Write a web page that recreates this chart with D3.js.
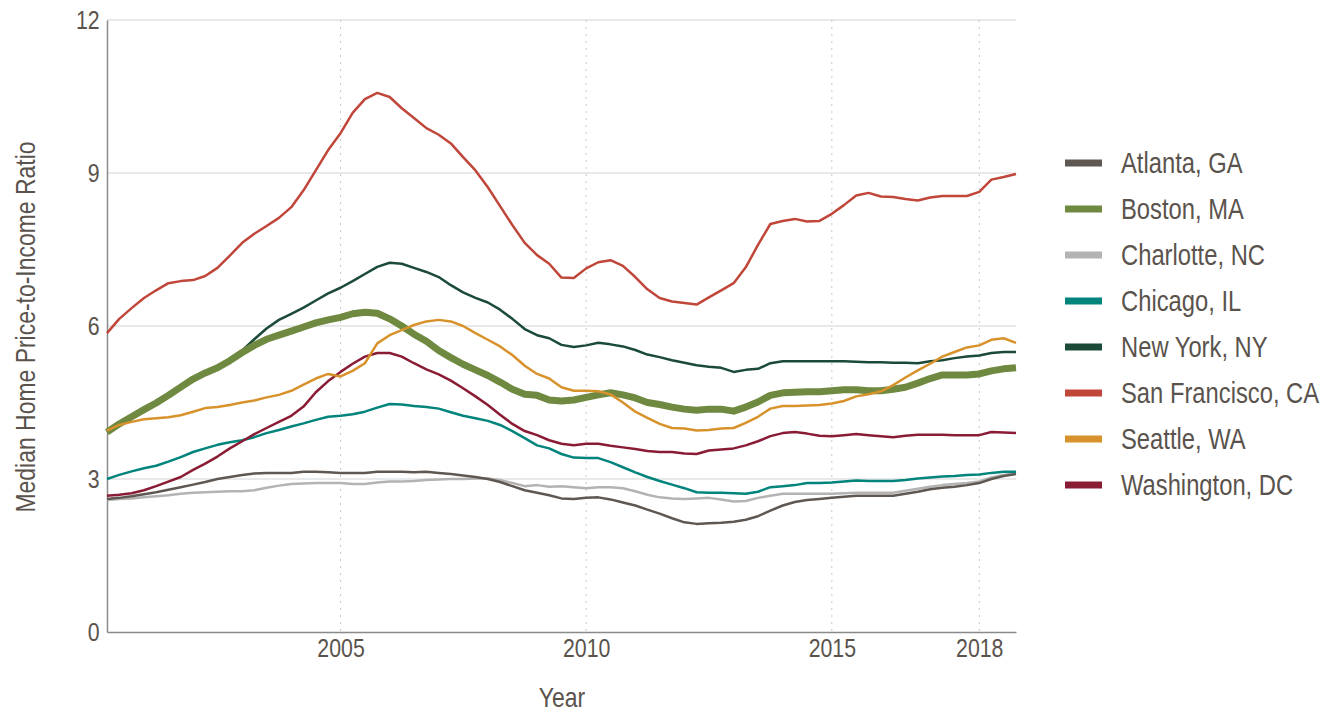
<!DOCTYPE html>
<html>
<head>
<meta charset="utf-8">
<title>Price-to-Income</title>
<script src="https://cdn.jsdelivr.net/npm/d3@7"></script>
<style>
  body { margin: 0; background: #fff; }
  svg text { font-family: "Liberation Sans", Arial, sans-serif; fill: #5a534d; }
</style>
</head>
<body>
<svg id="chart" width="1325" height="713"></svg>
<script>
// quarterly, 2000 Q1 .. 2018 Q3
const quarters = d3.range(75).map(i => new Date(2000, 3 + 3 * i, 1))

const atlanta = [2.61,2.63,2.66,2.70,2.74,2.79,2.84,2.89,2.94,3.00,3.04,3.08,3.11,3.12,3.12,3.12,3.14,3.14,3.13,3.12,
  3.12,3.12,3.14,3.14,3.14,3.13,3.14,3.12,3.10,3.07,3.04,3.00,2.94,2.86,2.78,2.73,2.68,2.62,2.61,2.63,
  2.64,2.60,2.54,2.48,2.40,2.32,2.23,2.15,2.12,2.13,2.14,2.16,2.20,2.27,2.38,2.48,2.55,2.59,2.61,2.63,
  2.65,2.67,2.67,2.67,2.67,2.71,2.75,2.80,2.83,2.85,2.88,2.92,3.00,3.06,3.10]
const boston = [3.92,4.08,4.22,4.36,4.49,4.64,4.80,4.96,5.08,5.18,5.32,5.48,5.62,5.74,5.82,5.90,5.98,6.06,6.12,6.17,
  6.24,6.27,6.25,6.14,6.00,5.84,5.70,5.52,5.38,5.25,5.14,5.03,4.90,4.76,4.66,4.64,4.55,4.53,4.55,4.60,
  4.65,4.69,4.65,4.59,4.50,4.46,4.41,4.37,4.35,4.37,4.37,4.33,4.41,4.51,4.64,4.69,4.70,4.71,4.71,4.73,
  4.75,4.75,4.73,4.73,4.76,4.80,4.88,4.97,5.04,5.04,5.04,5.06,5.12,5.16,5.18]
const charlotte = [2.59,2.61,2.62,2.64,2.66,2.68,2.71,2.73,2.74,2.75,2.76,2.76,2.78,2.83,2.87,2.90,2.91,2.92,2.92,2.92,
  2.90,2.90,2.93,2.95,2.95,2.96,2.98,2.99,3.00,3.00,3.01,3.01,2.98,2.92,2.86,2.88,2.85,2.86,2.84,2.82,
  2.84,2.84,2.82,2.76,2.69,2.64,2.62,2.61,2.62,2.63,2.60,2.56,2.57,2.63,2.67,2.71,2.71,2.71,2.71,2.71,
  2.72,2.73,2.73,2.73,2.73,2.77,2.81,2.85,2.88,2.90,2.92,2.95,3.03,3.08,3.12]
const chicago = [3.00,3.08,3.15,3.21,3.26,3.34,3.43,3.53,3.60,3.67,3.72,3.76,3.82,3.90,3.96,4.03,4.09,4.16,4.22,4.24,
  4.27,4.32,4.40,4.47,4.46,4.43,4.41,4.38,4.31,4.24,4.19,4.14,4.06,3.94,3.80,3.66,3.60,3.49,3.42,3.41,
  3.41,3.33,3.23,3.13,3.04,2.96,2.89,2.82,2.74,2.73,2.73,2.72,2.71,2.75,2.84,2.86,2.88,2.92,2.92,2.93,
  2.95,2.97,2.96,2.96,2.96,2.98,3.01,3.03,3.05,3.06,3.08,3.09,3.12,3.14,3.14]
const newYork = [3.92,4.08,4.22,4.36,4.49,4.64,4.80,4.96,5.08,5.18,5.32,5.52,5.74,5.95,6.12,6.24,6.36,6.50,6.64,6.75,
  6.88,7.02,7.16,7.24,7.22,7.14,7.06,6.96,6.80,6.66,6.55,6.46,6.32,6.14,5.94,5.82,5.76,5.63,5.59,5.62,
  5.67,5.64,5.60,5.53,5.44,5.39,5.33,5.28,5.23,5.20,5.18,5.10,5.14,5.16,5.27,5.31,5.31,5.31,5.31,5.31,
  5.31,5.30,5.29,5.29,5.28,5.28,5.27,5.31,5.33,5.37,5.40,5.42,5.47,5.49,5.49]
const sanFrancisco = [5.86,6.14,6.35,6.55,6.70,6.84,6.88,6.90,6.98,7.14,7.38,7.63,7.81,7.96,8.12,8.33,8.66,9.05,9.45,9.78,
  10.18,10.45,10.57,10.49,10.27,10.08,9.88,9.75,9.58,9.31,9.05,8.72,8.35,7.98,7.63,7.39,7.22,6.95,6.94,7.13,
  7.25,7.29,7.18,6.96,6.72,6.55,6.48,6.45,6.42,6.56,6.70,6.84,7.15,7.59,8.00,8.06,8.10,8.05,8.06,8.20,
  8.37,8.56,8.61,8.54,8.53,8.49,8.46,8.52,8.55,8.55,8.55,8.63,8.87,8.92,8.98]
const seattle = [3.95,4.06,4.12,4.17,4.19,4.21,4.25,4.32,4.39,4.41,4.45,4.50,4.54,4.60,4.65,4.73,4.85,4.97,5.06,5.01,
  5.12,5.27,5.66,5.82,5.92,6.02,6.09,6.12,6.09,6.00,5.86,5.73,5.60,5.43,5.22,5.06,4.97,4.80,4.73,4.73,
  4.72,4.66,4.50,4.32,4.20,4.08,4.00,3.99,3.95,3.96,3.99,4.00,4.10,4.22,4.38,4.43,4.43,4.44,4.45,4.48,
  4.53,4.62,4.66,4.72,4.84,4.99,5.13,5.26,5.40,5.49,5.58,5.62,5.73,5.76,5.67]
const washington = [2.67,2.69,2.72,2.78,2.86,2.95,3.04,3.18,3.30,3.44,3.60,3.74,3.88,4.00,4.12,4.24,4.42,4.70,4.92,5.10,
  5.26,5.40,5.47,5.47,5.40,5.27,5.15,5.05,4.93,4.78,4.62,4.45,4.26,4.08,3.94,3.86,3.76,3.69,3.66,3.69,
  3.69,3.65,3.62,3.59,3.55,3.53,3.53,3.50,3.49,3.56,3.58,3.60,3.66,3.74,3.84,3.90,3.92,3.89,3.85,3.84,
  3.86,3.88,3.86,3.84,3.82,3.85,3.87,3.87,3.87,3.86,3.86,3.86,3.92,3.91,3.90]

const cities = ['Atlanta, GA', 'Boston, MA', 'Charlotte, NC', 'Chicago, IL', 'New York, NY', 'San Francisco, CA', 'Seattle, WA', 'Washington, DC']
const cityValues = [atlanta, boston, charlotte, chicago, newYork, sanFrancisco, seattle, washington]
const cityColors = ['#5f5852', '#6f8a40', '#b3b3b3', '#00847b', '#1b4a39', '#c0463a', '#d8922b', '#8a1b34']
const drawOrder = ['Charlotte, NC', 'Atlanta, GA', 'Chicago, IL', 'Washington, DC', 'New York, NY', 'Boston, MA', 'Seattle, WA', 'San Francisco, CA']
const yTicks = [0, 3, 6, 9, 12]
const xTickYears = [2005, 2010, 2015, 2018]

const series = cities.map((name, i) => ({
  name: name,
  color: cityColors[i],
  values: cityValues[i].map((v, j) => ({date: quarters[j], value: v}))
}))

const svg = d3.select('#chart')
const plotLeft = 107, plotRight = 1016, plotTop = 20, plotBottom = 632
const narrow = 'scale(0.82,1)'  // no condensed face installed, squeeze the sans instead

const x = d3.scaleTime().domain([quarters[0], quarters[quarters.length - 1]]).range([plotLeft, plotRight])
const y = d3.scaleLinear().domain([0, 12]).range([plotBottom, plotTop])

// grid
svg.append('g').selectAll('line').data(yTicks.filter(d => d > 0)).join('line')
  .attr('x1', plotLeft).attr('x2', plotRight)
  .attr('y1', d => y(d)).attr('y2', d => y(d))
  .attr('stroke', '#e9e9ea').attr('stroke-width', 2)

svg.append('g').selectAll('line').data(xTickYears).join('line')
  .attr('x1', d => x(new Date(d, 0, 1))).attr('x2', d => x(new Date(d, 0, 1)))
  .attr('y1', plotTop).attr('y2', plotBottom)
  .attr('stroke', '#c8c8c8').attr('stroke-width', 1).attr('stroke-dasharray', '2,5')

// axes
const yAxis = svg.append('g').attr('transform', `translate(${plotLeft},0)`)
  .call(d3.axisLeft(y).tickValues(yTicks).tickSize(0).tickPadding(9))
const xAxis = svg.append('g').attr('transform', `translate(0,${plotBottom})`)
  .call(d3.axisBottom(x).tickValues(xTickYears.map(d => new Date(d, 0, 1))).tickFormat(d3.timeFormat('%Y')).tickSize(0).tickPadding(7))
for (const ax of [yAxis, xAxis]) {
  ax.select('.domain').attr('stroke', '#8a8a8a').attr('stroke-width', 1.5)
  ax.selectAll('text').style('font-size', '26px').attr('fill', '#5a534d').attr('transform', narrow)
}

// lines
const line = d3.line().x(d => x(d.date)).y(d => y(d.value))
svg.append('g').selectAll('path')
  .data(drawOrder.map(n => series.find(s => s.name === n)))
  .join('path')
  .attr('d', d => line(d.values))
  .attr('fill', 'none')
  .attr('stroke', d => d.color)
  .attr('stroke-width', d => d.name === 'Boston, MA' ? 7 : 2.5)
  .attr('stroke-linejoin', 'round')

// axis titles
svg.append('text').attr('transform', `translate(562,707) ${narrow}`).attr('text-anchor', 'middle')
  .style('font-size', '28px').text('Year')
svg.append('text').attr('transform', `translate(35,327) rotate(-90) ${narrow}`).attr('text-anchor', 'middle')
  .style('font-size', '28px').text('Median Home Price-to-Income Ratio')

// legend
const legend = svg.append('g').attr('transform', 'translate(1065,163)')
const items = legend.selectAll('g').data(series).join('g')
  .attr('transform', (d, i) => `translate(0,${i * 46})`)
items.append('rect').attr('x', 0).attr('y', -3.5).attr('width', 37).attr('height', 7).attr('fill', d => d.color)
items.append('text').attr('transform', `translate(56,10) ${narrow}`).style('font-size', '29px').text(d => d.name)
</script>
</body>
</html>
